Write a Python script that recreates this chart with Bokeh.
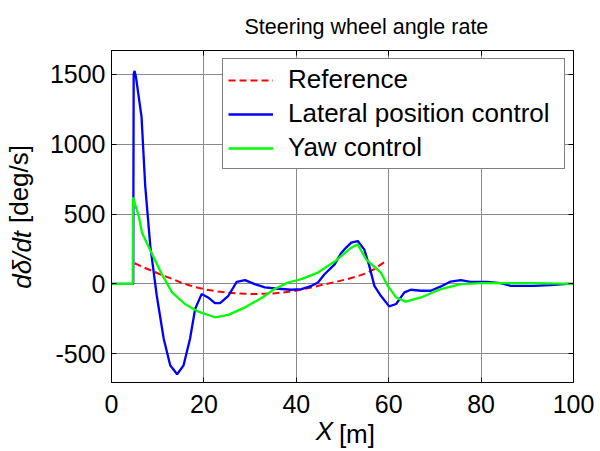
from bokeh.plotting import figure
from bokeh.models import Range1d, LinearAxis, FixedTicker, CustomJSTickFormatter
from bokeh.embed import file_html
from bokeh.resources import INLINE

# ---------------- data ----------------
ref_x = [5, 7, 9, 11, 13, 15, 17, 19, 21, 23, 25, 27, 29, 31, 33, 35, 37, 39,
         41, 43, 45, 47, 49, 51, 53, 55, 57, 59]
ref_y = [148, 118, 90, 62, 38, 10, -12, -30, -44, -54, -62, -68, -71, -72, -71,
         -68, -62, -54, -42, -28, -12, 3, 18, 34, 52, 75, 108, 155]

lat_x = [0, 4.7, 4.8, 5.0, 5.3, 6.5, 7.3, 8.4, 9.8, 11.3, 12.7, 14.2, 15.6, 17.0,
         18.1, 19.5, 20.9, 22.4, 23.5, 25.3, 27.1, 28.9, 31.0, 33.2, 35.5, 38.9,
         41.1, 43.3, 44.7, 46.1, 48.3, 49.7, 50.4, 51.9, 53.3, 54.7, 55.8, 56.9,
         58.3, 60.1, 61.6, 63.4, 64.8, 67.0, 69.1, 71.3, 73.4, 75.6, 77.7, 81.3,
         84.2, 86.4, 91.4, 95.0, 98.6, 100]
lat_y = [0, 0, 1500, 1525, 1480, 1196, 700, 271, -85, -393, -583, -647, -583,
         -393, -180, -73, -97, -137, -137, -85, 15, 27, -2, -25, -33, -42, -37,
         -14, 10, 69, 140, 220, 247, 295, 307, 247, 129, -14, -85, -161, -144,
         -61, -42, -49, -49, -18, 17, 27, 15, 15, 5, -14, -14, -9, 0, 0]

yaw_x = [0, 4.6, 4.65, 5.9, 6.6, 8.8, 10.9, 13.1, 15.9, 18.8, 22.4, 25.3, 28.9,
         32.5, 35.3, 38.2, 41.1, 44.7, 48.3, 51.9, 53.3, 55.1, 58.3, 59.8, 61.6,
         63.7, 67.0, 71.3, 75.6, 79.9, 91.4, 100]
yaw_y = [0, 0, 620, 485, 366, 212, 69, -61, -144, -199, -239, -222, -168, -101,
         -37, 10, 34, 81, 160, 259, 283, 176, 81, -14, -97, -127, -97, -37, -2,
         5, 5, 0]

x_ticks = [0, 20, 40, 60, 80, 100]
y_ticks = [-500, 0, 500, 1000, 1500]

title_text = "Steering wheel angle rate"
xlabel_it, xlabel_rest = "X", "[m]"
ylabel_it, ylabel_rest = "dδ/dt", "[deg/s]"
legend_names = ["Reference", "Lateral position control", "Yaw control"]

# ---------------- layout ----------------
X0, X1 = 0, 100
Y0, Y1 = -706, 1671
W, H = 600, 451
FL, FR, FT, FB = 109, 573, 50, 384   # frame edges in canvas pixels
FONT = "Liberation Sans"
NB = "\u00a0"   # non-breaking space, used to shift centred axis-label pieces

p = figure(width=W, height=H, output_backend="svg", toolbar_location=None,
           x_range=Range1d(X0, X1), y_range=Range1d(Y0, Y1),
           min_border_left=FL, min_border_right=W - FR,
           min_border_top=FT, min_border_bottom=H - FB)
p.outline_line_color = "black"
p.outline_line_width = 1
p.background_fill_color = "white"
p.border_fill_color = "white"

# title
p.title.text = title_text
p.title.align = "left"
p.title.offset = 133
p.title.text_font = FONT
p.title.text_font_size = "21.5px"
p.title.text_font_style = "normal"
p.title.text_color = "black"
p.title.standoff = 24

for ax, tk in ((p.xaxis, x_ticks), (p.yaxis, y_ticks)):
    ax.ticker = FixedTicker(ticks=tk)
    ax.major_tick_in = 5
    ax.major_tick_out = 0
    ax.minor_tick_line_color = None
    ax.axis_line_color = "black"
    ax.major_tick_line_color = "black"
    ax.major_label_text_font = FONT
    ax.major_label_text_font_size = "25px"
    ax.major_label_text_color = "black"
p.xaxis.major_label_standoff = 12
p.yaxis.major_label_standoff = 6
p.yaxis.major_label_overrides = {t: str(t) for t in y_ticks}

blank = CustomJSTickFormatter(code="return ''")
top = LinearAxis(ticker=FixedTicker(ticks=x_ticks), major_tick_in=5,
                 major_tick_out=0, minor_tick_line_color=None,
                 formatter=blank, major_label_standoff=0,
                 axis_line_color="black")
right = LinearAxis(ticker=FixedTicker(ticks=y_ticks), major_tick_in=5,
                   major_tick_out=0, minor_tick_line_color=None,
                   formatter=blank, major_label_standoff=0,
                   axis_line_color="black")
p.add_layout(top, "above")
p.add_layout(right, "right")


def label_axis(text, style, standoff):
    return LinearAxis(ticker=FixedTicker(ticks=[]),
                      axis_line_color=None, major_tick_line_color=None,
                      minor_tick_line_color=None, axis_label=text,
                      axis_label_text_font=FONT, axis_label_text_font_size="26px",
                      axis_label_text_font_style=style,
                      axis_label_text_color="black",
                      axis_label_standoff=standoff)


# x label: italic "X" and upright "[m]" on one line
p.add_layout(label_axis(xlabel_it + NB * 5, "italic", 0), "below")
p.add_layout(label_axis(NB * 4 + xlabel_rest, "normal", -30), "below")
# y label: italic "dδ/dt" and upright "[deg/s]" on one line
p.add_layout(label_axis(ylabel_it + NB * 12, "italic", 10), "left")
p.add_layout(label_axis(NB * 9 + ylabel_rest, "normal", -30), "left")

p.xgrid.ticker = FixedTicker(ticks=x_ticks)
p.ygrid.ticker = FixedTicker(ticks=y_ticks)
for g in (p.xgrid, p.ygrid):
    g.grid_line_color = "#8a8a8a"
    g.grid_line_width = 1

p.line(ref_x, ref_y, line_color="#ff0000", line_width=2, line_dash="7 4",
       legend_label=legend_names[0])
p.line(lat_x, lat_y, line_color="#0000ff", line_width=2.3,
       legend_label=legend_names[1])
p.line(yaw_x, yaw_y, line_color="#00ff00", line_width=2.3,
       legend_label=legend_names[2])

lg = p.legend[0]
lg.location = "top_right"
lg.margin = 8
lg.padding = 5
lg.spacing = 3
lg.glyph_width = 45
lg.glyph_height = 26
lg.label_height = 26
lg.label_standoff = 15
lg.label_width = 271
lg.label_text_font = FONT
lg.label_text_font_size = "26px"
lg.label_text_color = "black"
lg.border_line_color = "black"
lg.border_line_width = 1
lg.background_fill_color = "white"
lg.background_fill_alpha = 1

open("out.html", "w").write(file_html(p, INLINE))
